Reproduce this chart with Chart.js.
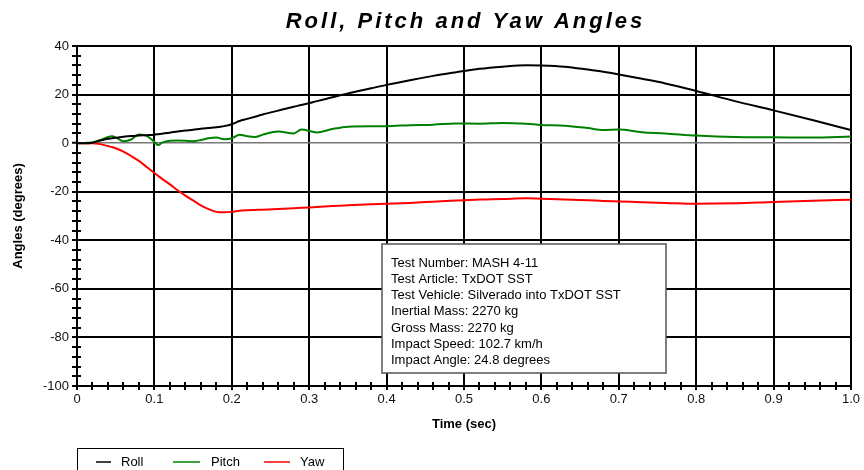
<!DOCTYPE html>
<html>
<head>
<meta charset="utf-8">
<script src="https://cdn.jsdelivr.net/npm/chart.js@4.4.1/dist/chart.umd.min.js"></script>
<style>
  html, body { margin: 0; padding: 0; background: #fff; }
</style>
</head>
<body>
<canvas id="anglesChart" width="864" height="470"></canvas>
<script>
// values
const timeSec = [0, 0.01, 0.02, 0.03, 0.04, 0.045, 0.05, 0.06, 0.07, 0.08, 0.09, 0.1, 0.105, 0.11, 0.12, 0.13, 0.14, 0.15, 0.16, 0.17, 0.18, 0.19, 0.2,
  0.21, 0.22, 0.23, 0.24, 0.26, 0.28, 0.29, 0.31, 0.33, 0.35, 0.38, 0.4, 0.43, 0.46, 0.49, 0.52, 0.55, 0.58, 0.6,
  0.63, 0.66, 0.68, 0.7, 0.73, 0.76, 0.8, 0.85, 0.9, 0.95, 1.0];
const roll = [0, 0, 0.2, 1.1, 1.8, 2.0, 2.2, 2.6, 2.9, 3.1, 3.3, 3.5, 3.7, 3.9, 4.3, 4.8, 5.2, 5.5, 5.9, 6.2, 6.5, 7.0, 7.8,
  9.1, 10.0, 10.9, 11.8, 13.4, 15.0, 15.7, 17.3, 18.9, 20.5, 22.6, 24.0, 25.9, 27.7, 29.2, 30.6, 31.5, 32.1, 32.0,
  31.5, 30.3, 29.4, 28.3, 26.5, 24.6, 21.5, 17.3, 13.5, 9.5, 5.4];
const pitch = [0, 0.1, 0.3, 1.2, 2.5, 2.8, 2.4, 0.8, 1.5, 3.6, 3.0, 0.5, -0.8, 0.2, 1.0, 1.1, 1.0, 0.8, 1.3, 2.0, 2.3, 1.6, 2.0,
  3.5, 2.8, 2.5, 3.5, 4.8, 4.0, 5.6, 4.4, 5.8, 6.8, 7.0, 7.0, 7.4, 7.6, 8.1, 8.0, 8.3, 8.0, 7.5,
  7.2, 6.2, 5.4, 5.6, 4.5, 4.0, 3.1, 2.5, 2.4, 2.3, 2.7];
const yaw = [0, 0, 0, -0.4, -1.2, -1.6, -2.1, -3.5, -5.3, -7.3, -9.8, -12.3, -13.5, -14.7, -17.0, -19.4, -21.6, -23.6, -25.6, -27.2, -28.3, -28.5, -28.3,
  -27.8, -27.6, -27.5, -27.4, -27.1, -26.8, -26.6, -26.3, -25.9, -25.6, -25.2, -25.0, -24.6, -24.1, -23.6, -23.2, -23.0, -22.7, -22.9,
  -23.2, -23.5, -23.8, -24.0, -24.3, -24.6, -25.0, -24.8, -24.2, -23.7, -23.3];

const seriesNames = ['Roll', 'Pitch', 'Yaw'];
const seriesColors = ['#000000', '#008000', '#ff0000'];
const chartTitle = 'Roll, Pitch and Yaw Angles';

const testInfo = [
    'Test Number: MASH 4-11',
    'Test Article: TxDOT SST',
    'Test Vehicle: Silverado into TxDOT SST',
    'Inertial Mass: 2270 kg',
    'Gross Mass: 2270 kg',
    'Impact Speed: 102.7 km/h',
    'Impact Angle: 24.8 degrees'
];

const FONT = "'Liberation Sans', Arial, sans-serif";

function isMajorX(v) { return Math.round(v * 100) % 10 === 0; }
function isMajorY(v) { return Math.round(v) % 20 === 0; }

// spaced-out title, minor tick inner halves, the info box and the boxed legend
const extrasPlugin = {
    id: 'extras',
    afterDraw(chart) {
        const { ctx, chartArea, scales: { x, y } } = chart;
        ctx.save();

        // title (the original has wide letter spacing)
        ctx.font = 'italic bold 22px ' + FONT;
        ctx.fillStyle = '#000';
        ctx.textBaseline = 'alphabetic';
        ctx.letterSpacing = '3px';
        const tw = ctx.measureText(chartTitle).width - 3;
        ctx.fillText(chartTitle, (chartArea.left + chartArea.right) / 2 - tw / 2, 28);
        ctx.letterSpacing = '0px';

        ctx.strokeStyle = '#000';
        ctx.lineWidth = 2;
        ctx.beginPath();
        y.ticks.forEach(t => {
            if (isMajorY(t.value)) return;
            const py = Math.round(y.getPixelForValue(t.value));
            ctx.moveTo(chartArea.left, py);
            ctx.lineTo(chartArea.left + 4, py);
        });
        x.ticks.forEach(t => {
            if (isMajorX(t.value)) return;
            const px = Math.round(x.getPixelForValue(t.value));
            ctx.moveTo(px, chartArea.bottom);
            ctx.lineTo(px, chartArea.bottom - 4);
        });
        ctx.stroke();

        // info box
        const bx = chartArea.left + 305, by = chartArea.top + 198;
        ctx.fillStyle = '#fff';
        ctx.fillRect(bx, by, 284, 129);
        ctx.strokeStyle = '#555';
        ctx.lineWidth = 1.5;
        ctx.strokeRect(bx, by, 284, 129);
        ctx.fillStyle = '#000';
        ctx.font = '13px ' + FONT;
        ctx.textBaseline = 'middle';
        testInfo.forEach((line, i) => ctx.fillText(line, bx + 9, by + 19 + i * 16.3));

        // legend
        const lx = chartArea.left, ly = 448;
        ctx.strokeStyle = '#000';
        ctx.lineWidth = 1;
        ctx.strokeRect(lx + 0.5, ly + 0.5, 266, 40);
        const items = [[19, 34, 44], [96, 123, 134], [187, 213, 223]];
        chart.data.datasets.forEach((ds, i) => {
            const [a, b, t] = items[i];
            ctx.strokeStyle = ds.borderColor;
            ctx.lineWidth = 1.5;
            ctx.beginPath();
            ctx.moveTo(lx + a, ly + 14);
            ctx.lineTo(lx + b, ly + 14);
            ctx.stroke();
            ctx.fillStyle = '#000';
            ctx.fillText(ds.label, lx + t, ly + 14);
        });

        ctx.restore();
    }
};

const datasets = [roll, pitch, yaw].map((vals, i) => ({
    label: seriesNames[i],
    data: timeSec.map((t, k) => ({ x: t, y: vals[k] })),
    borderColor: seriesColors[i],
    borderWidth: 2,
    pointRadius: 0,
    cubicInterpolationMode: 'monotone'
}));

new Chart(document.getElementById('anglesChart').getContext('2d'), {
    type: 'line',
    data: { datasets: datasets },
    options: {
        responsive: false,
        animation: false,
        events: [],
        layout: { padding: { left: 0, right: 13, top: 46, bottom: 38 } },
        plugins: {
            legend: { display: false },
            tooltip: { enabled: false },
            title: { display: false }
        },
        scales: {
            x: {
                type: 'linear',
                min: 0,
                max: 1,
                afterFit(scale) { scale.height = 46; },
                ticks: {
                    stepSize: 0.02,
                    autoSkip: false,
                    maxRotation: 0,
                    padding: 2,
                    color: '#111',
                    font: { family: FONT, size: 13 },
                    callback: v => !isMajorX(v) ? '' : (v === 0 ? '0' : Number(v).toFixed(1))
                },
                grid: {
                    color: c => isMajorX(c.tick.value) ? '#000' : 'rgba(0,0,0,0)',
                    lineWidth: 2,
                    tickColor: '#000',
                    tickWidth: 2,
                    tickLength: 4
                },
                border: { color: '#000', width: 2 },
                title: {
                    display: true,
                    text: 'Time (sec)',
                    color: '#000',
                    font: { family: FONT, size: 13, weight: 'bold' },
                    padding: { top: 0, bottom: 0 }
                }
            },
            y: {
                min: -100,
                max: 40,
                afterFit(scale) { scale.width = 77; },
                ticks: {
                    stepSize: 4,
                    autoSkip: false,
                    padding: 3,
                    color: '#111',
                    font: { family: FONT, size: 13 },
                    callback: v => isMajorY(v) ? String(v) : ''
                },
                grid: {
                    color: c => c.tick.value === 0 ? '#777' : (isMajorY(c.tick.value) ? '#000' : 'rgba(0,0,0,0)'),
                    lineWidth: c => c.tick.value === 0 ? 1.5 : 2,
                    tickColor: '#000',
                    tickWidth: 2,
                    tickLength: 5
                },
                border: { color: '#000', width: 2 },
                title: {
                    display: true,
                    text: 'Angles (degrees)',
                    color: '#000',
                    font: { family: FONT, size: 13, weight: 'bold' },
                    padding: { top: 11, bottom: 0 }
                }
            }
        }
    },
    plugins: [extrasPlugin]
});
</script>
</body>
</html>
